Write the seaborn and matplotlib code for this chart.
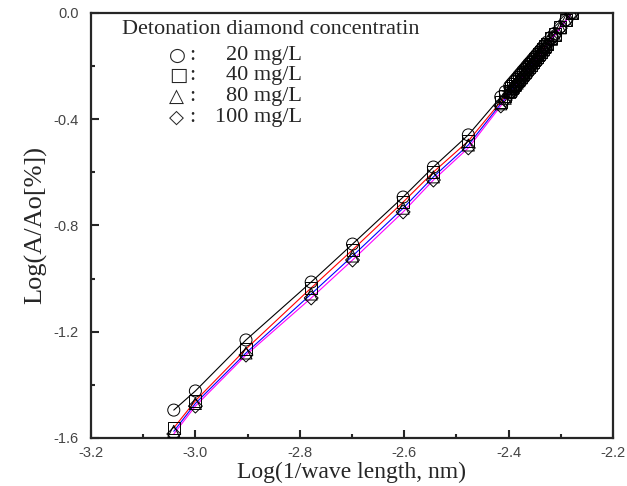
import numpy as np
import pandas as pd
import matplotlib
matplotlib.use("Agg")
import matplotlib.pyplot as plt
from matplotlib.ticker import MultipleLocator
import seaborn as sns

# wavelength (nm) -> x = log(1/wavelength)
wavelength = [1100, 1000, 800, 600, 500, 400, 350, 300, 260, 255,
              250, 248, 246, 244, 242, 240, 238, 236, 234, 232,
              230, 228, 226, 224, 222, 220, 218, 216, 214, 212,
              208, 205, 200, 195, 190]

# Log(A/Ao)
y_20 = [-1.495, -1.423, -1.231, -1.013, -0.870, -0.693, -0.580, -0.459, -0.316, -0.296,
        -0.276, -0.268, -0.260, -0.252, -0.244, -0.235, -0.227, -0.218, -0.210, -0.201,
        -0.192, -0.184, -0.175, -0.166, -0.157, -0.148, -0.139, -0.129, -0.120, -0.110,
        -0.091, -0.077, -0.052, -0.026, 0.0]
y_40 = [-1.562, -1.460, -1.265, -1.035, -0.892, -0.712, -0.599, -0.482, -0.334, -0.313,
        -0.292, -0.283, -0.275, -0.266, -0.257, -0.248, -0.240, -0.231, -0.221, -0.212,
        -0.203, -0.194, -0.184, -0.175, -0.166, -0.156, -0.146, -0.136, -0.126, -0.116,
        -0.096, -0.081, -0.054, -0.027, 0.0]
y_80 = [-1.575, -1.470, -1.280, -1.058, -0.915, -0.735, -0.617, -0.497, -0.342, -0.321,
        -0.299, -0.290, -0.281, -0.273, -0.264, -0.255, -0.245, -0.236, -0.227, -0.218,
        -0.208, -0.199, -0.189, -0.179, -0.170, -0.160, -0.150, -0.140, -0.130, -0.119,
        -0.099, -0.083, -0.056, -0.028, 0.0]
y_100 = [-1.585, -1.480, -1.288, -1.073, -0.930, -0.749, -0.629, -0.508, -0.350, -0.328,
         -0.306, -0.297, -0.288, -0.279, -0.270, -0.261, -0.251, -0.242, -0.232, -0.223,
         -0.213, -0.203, -0.194, -0.184, -0.174, -0.163, -0.153, -0.143, -0.133, -0.122,
         -0.101, -0.085, -0.057, -0.029, 0.0]

series = ["20 mg/L", "40 mg/L", "80 mg/L", "100 mg/L"]
markers = {"20 mg/L": "o", "40 mg/L": "s", "80 mg/L": "^", "100 mg/L": "D"}
line_colors = {"20 mg/L": "black", "40 mg/L": "red", "80 mg/L": "blue", "100 mg/L": "magenta"}

x = np.log10(1.0 / np.array(wavelength, dtype=float))
df = pd.concat([pd.DataFrame({"x": x, "y": yy, "conc": name})
                for name, yy in zip(series, [y_20, y_40, y_80, y_100])], ignore_index=True)

sns.set_style("ticks")
plt.rcParams['font.family'] = ['Liberation Serif', 'DejaVu Serif']

fig = plt.figure(figsize=(6.27, 4.86), dpi=100)
ax = fig.add_axes([0.1451, 0.0988, 0.8326, 0.8745])

sns.lineplot(data=df, x="x", y="y", hue="conc", palette=line_colors, sort=True,
             linewidth=0.8, legend=False, ax=ax, zorder=2)
for name in series:
    sub = df[df.conc == name]
    ax.scatter(sub.x, sub.y, marker=markers[name], s=75 if name != "100 mg/L" else 50,
               facecolors="none", edgecolors="black", linewidths=0.7, zorder=3)

ax.set_xlim(-3.2, -2.2)
ax.set_ylim(-1.6, 0.0)
ax.xaxis.set_major_locator(MultipleLocator(0.2))
ax.xaxis.set_minor_locator(MultipleLocator(0.1))
ax.yaxis.set_major_locator(MultipleLocator(0.4))
ax.yaxis.set_minor_locator(MultipleLocator(0.2))
ax.set_xticklabels([f"{v:.1f}" for v in ax.get_xticks()])
ax.set_yticklabels([f"{v:.1f}" for v in ax.get_yticks()])
ax.tick_params(which="both", direction="in", width=1.5, top=False, right=False,
               labelsize=10.5, labelcolor="#444444")
ax.tick_params(axis="y", pad=9)
ax.tick_params(axis="x", pad=6)
ax.tick_params(which="major", length=6)
ax.tick_params(which="minor", length=3)
for lab in ax.get_xticklabels() + ax.get_yticklabels():
    lab.set_family("Liberation Sans")
for sp in ax.spines.values():
    sp.set_linewidth(1.6)
    sp.set_visible(True)

ax.set_xlabel("Log(1/wave length, nm)", fontsize=17, labelpad=1)
ax.set_ylabel("Log(A/Ao[%])", fontsize=19, labelpad=4)

# legend block drawn as text (pixel positions)
ax.text(122, 486 - 29, "Detonation diamond concentratin", transform=None, fontsize=16,
        va="center", ha="left")
sym = ["\u25cb", "\u25a1", "\u25b3", "\u25c7"]
rows = [55, 75, 96, 117]
for s, name, r in zip(sym, series, rows):
    yy = 486 - r
    ax.text(169, yy, s, transform=None, fontsize=14, va="center", ha="left",
            family="DejaVu Sans")
    ax.text(189, yy, ":", transform=None, fontsize=16, va="center", ha="left")
    ax.text(302, yy, name, transform=None, fontsize=16, va="center", ha="right")

fig.savefig("out.png", dpi=100)
